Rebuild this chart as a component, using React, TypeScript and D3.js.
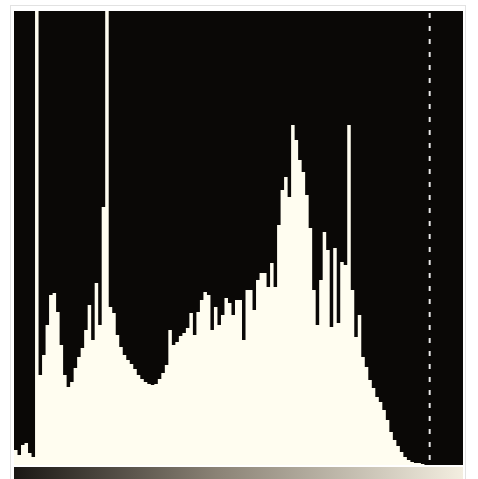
import React from "react";
import * as d3 from "d3";

// Histogram counts, one per pair of levels (128 bins over 0..255)
const counts: number[] = [
  15, 10, 20, 22, 12, 8, 454, 90, 110, 140,
  170, 172, 153, 120, 90, 78, 83, 97, 108, 117,
  135, 160, 125, 182, 140, 258, 454, 158, 152, 130,
  118, 110, 105, 101, 96, 90, 86, 83, 81, 80,
  81, 86, 92, 100, 135, 120, 123, 129, 132, 137,
  152, 130, 153, 165, 173, 170, 135, 158, 140, 150,
  167, 162, 150, 165, 165, 125, 175, 175, 155, 185,
  192, 192, 178, 202, 178, 240, 275, 288, 268, 340,
  325, 305, 293, 270, 237, 175, 140, 185, 233, 215,
  138, 217, 142, 203, 200, 340, 175, 128, 150, 108,
  98, 85, 77, 68, 63, 55, 45, 33, 25, 19,
  13, 8, 5, 3, 2, 2, 1, 0, 0, 0,
  0, 0, 0, 0, 0, 0, 0, 0,
];
const levelsPerBin = 2;
const levelMax = 256;
const countMax = 454;
const markerLevel = 237;

export default function App() {
  const W = 478;
  const H = 479;
  const left = 14, right = 463, top = 11, bottom = 465;
  const x = d3.scaleLinear().domain([0, levelMax]).range([left, right]);
  const y = d3.scaleLinear().domain([0, countMax]).range([bottom, top]).clamp(true);

  const pts: [number, number][] = counts.map((c, i) => [i * levelsPerBin, c]);
  pts.push([counts.length * levelsPerBin, counts[counts.length - 1]]);
  const area = d3
    .area<[number, number]>()
    .x((d) => x(d[0]))
    .y0(bottom)
    .y1((d) => y(d[1]))
    .curve(d3.curveStepAfter);

  return (
    <svg
      width={W}
      height={H}
      style={{ position: "absolute", left: 0, top: 0, background: "#ffffff" }}
    >
      <defs>
        <linearGradient id="ramp" x1="0" x2="1" y1="0" y2="0">
          <stop offset="0" stopColor="#1a1714" />
          <stop offset="0.45" stopColor="#8a8275" />
          <stop offset="1" stopColor="#f3eee0" />
        </linearGradient>
      </defs>
      {/* outer frame */}
      <rect x={10.5} y={5.5} width={455} height={480} fill="none" stroke="#e2e2e2" strokeWidth={1} />
      {/* plot background */}
      <rect x={left} y={top} width={right - left} height={bottom - top} fill="#0a0806" />
      {/* histogram */}
      <path d={area(pts) || ""} fill="#fffdf0" />
      {/* marker dashed line */}
      <line
        x1={x(markerLevel)}
        x2={x(markerLevel)}
        y1={top + 2}
        y2={bottom}
        stroke="#e8e8e8"
        strokeWidth={2}
        strokeDasharray="5,8"
      />
      {/* gradient ramp */}
      <rect x={left} y={467} width={right - left} height={12} fill="url(#ramp)" />
    </svg>
  );
}
